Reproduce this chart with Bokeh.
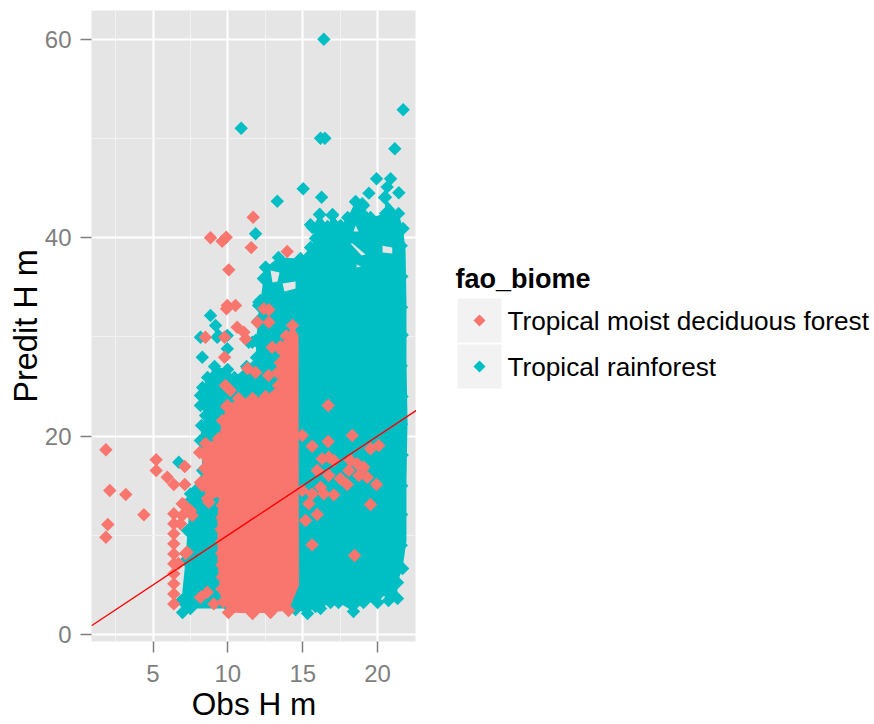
from bokeh.plotting import figure
from bokeh.layouts import row
from bokeh.models import FixedTicker, Range1d
from bokeh.core.properties import value
from bokeh.embed import file_html
from bokeh.resources import INLINE
import math

x_ticks = [5, 10, 15, 20]
x_minor = [2.5, 7.5, 12.5, 17.5, 22.5]
y_ticks = [0, 20, 40, 60]
y_minor = [10, 30, 50]
series_names = ["Tropical moist deciduous forest", "Tropical rainforest"]
line_x = [0.89, 22.6]
line_y = [0.89, 22.6]

# outline of the dense rainforest cloud
teal_edge_x = [12.18,12.38,12.52,13.38,14.85,15.52,15.85,15.65,16.12,16.66,16.99,17.53,18.0,18.53,19.06,18.99,19.53,20.53,20.46,21.4,21.7,
               21.87,21.93,21.93,22.0,21.93,21.93,21.67,21.33,21.33,20.73,20.2,20.0,19.06,18.39,17.39,16.86,16.19,15.85,15.32,14.52,
               10.18,7.5,6.97,6.9,7.17,7.3,7.5,7.84,8.31,8.17,8.24,8.51,8.17,8.17,8.31,8.64,9.11,9.98,10.44,11.25,11.91,11.85,12.05,12.05]
teal_edge_y = [33.67,35.89,37.0,38.0,37.9,39.01,39.92,41.03,42.34,41.13,42.34,41.23,42.04,43.65,43.24,42.44,42.04,42.44,44.05,42.44,40.93,
               38.71,33.67,27.62,21.57,15.52,9.48,6.65,5.24,3.63,3.43,4.23,3.23,3.23,2.32,3.23,3.23,2.62,2.82,2.12,2.52,
               2.62,2.62,2.22,3.43,7.46,10.48,13.51,14.52,16.53,19.56,21.07,22.08,23.08,24.09,24.9,25.91,27.02,26.71,25.91,27.02,27.92,29.64,31.65,33.17]
# gaps inside the rainforest cloud
hole1_x = [12.85, 13.45, 13.32, 12.98]
hole1_y = [36.69, 36.49, 35.58, 35.48]
hole2_x = [13.65, 14.52, 14.52, 13.78]
hole2_y = [35.38, 35.58, 34.88, 34.58]
hole3_x = [18.19, 18.33, 19.2, 18.93]
hole3_y = [39.42, 39.42, 38.31, 38.21]
hole4_x = [20.33, 20.98, 20.98, 20.33]
hole4_y = [39.2, 39.0, 38.41, 38.51]
hole5_x = [18.53, 18.73, 18.4]
hole5_y = [41.23, 40.63, 40.63]
hole6_x = [18.6, 18.9, 18.6]
hole6_y = [37.3, 37.1, 37.0]
# points along the right rim of the cloud
teal_rim_x = [21.58, 21.62, 21.6, 21.64, 21.58, 21.63, 21.6, 21.64, 21.61, 21.6, 21.58]
teal_rim_y = [39.2, 36.1, 33.0, 30.2, 27.1, 24.0, 21.2, 18.1, 15.0, 12.1, 9.0]
# single rainforest points outside the cloud
teal_x = [16.41,21.71,10.89,16.19,16.48,21.15,19.93,20.87,15.03,16.26,19.42,21.42,13.3,18.56,16.97,16.14,15.52,11.85,20.64,20.53,18.97,
          12.52,12.4,8.84,9.18,8.17,9.29,9.96,9.96,8.29,11.4,12.07,6.72,7.5,9.37,11.63]
teal_y = [60,52.9,51.04,50.03,50.03,48.96,45.94,45.94,44.93,44.08,44.49,44.53,43.68,43.58,42.24,42.34,41.3,40.39,45.1,44.08,43.42,
          37.03,35.86,32.16,31.15,29.97,29.97,30.14,28.8,27.95,29.47,33.5,17.37,14.18,30.14,29.47]

# outline of the dense moist deciduous cloud
pink_edge_x = [14.32,14.72,14.75,14.05,12.85,11.65,10.04,9.5,9.3,9.3,9.4,8.64,8.17,8.44,8.11,8.51,9.38,9.64,9.91,10.71,11.65,12.52,13.38,13.52]
pink_edge_y = [31.15,30.14,4.94,2.42,2.22,2.12,2.22,3.93,7.46,11.49,13.81,13.71,15.32,16.73,18.35,19.25,19.76,21.57,22.98,23.79,23.79,23.99,25.1,29.03]
pink_rim_x = [14.05,12.85,11.65,10.04,9.7,9.6,9.62,9.6,9.58,9.6,9.55,9.6,9.62,8.64,8.17,8.44,8.11,8.51,9.38,9.64,9.91,10.71,11.65,12.52,13.38,13.52,14.32]
pink_rim_y = [2.42,2.22,2.12,2.22,3.3,4.6,5.8,7,8.2,9.4,10.6,11.8,13,13.71,15.32,16.73,18.35,19.25,19.76,21.57,22.98,23.79,23.79,23.99,25.1,29.03,31.15]
pink_x = [11.69,8.84,9.62,9.89,11.56,13.96,10.06,9.91,9.96,10.51,12.4,12.74,10.62,11.07,11.18,11.96,12.74,12.96,8.5,9.78,9.78,
          1.85,5.21,5.21,2.11,3.18,4.39,1.98,1.85,5.95,6.39,7.12,7.12,7.06,
          6.39,6.39,6.39,6.39,6.39,6.39,6.39,6.39,6.39,6.39,6.95,7.62,6.84,7.28,8.29,8.73,8.95,8.17,8.62,9.06,
          16.7,14.97,15.63,16.7,18.31,19.53,20.08,16.3,16.74,17.08,15.97,18.19,18.64,19.08,18.75,19.31,17.97,19.93,17.08,16.41,19.53,
          15.63,15.41,15.97,15.19,15.63,18.46,14.97,16.74,17.52,18.08,16.19,
          11.31,11.85,12.72,13.32,9.84,10.17,9.98,7.5,6.95,7.17,6.7,13.9,13.6,13.5]
pink_y = [42.07,40,39.65,40.05,39,38.6,36.76,32.83,33.16,33.16,32.83,32.73,30.98,30.47,29.8,31.48,31.48,28.96,29.97,29.97,27.95,
          18.62,17.61,16.53,14.52,14.11,12.07,11.09,9.81,15.86,15.12,15.12,16.94,13.1,
          12.17,11.16,10.15,9.14,8.13,7.13,6.12,5.11,4.1,3.09,12,12,11.16,8.3,15.02,13.34,14.52,3.76,4.26,3.09,
          23.09,20.06,18.98,19.46,20.06,18.72,19.05,17.71,17.87,17.54,16.53,17.54,17.21,16.87,16.03,15.86,15.12,15.12,14.08,14.18,13.1,
          14.18,13.18,12.1,11.49,9.04,7.96,14.52,16.03,15.7,16.53,14.85,
          26.81,26.41,26.11,26.41,25.1,24.6,23.08,12.5,13.18,8.17,7.16,30.1,28.6,27.4]

PINK = "#F8766D"
TEAL = "#00BFC4"
FONT = "Liberation Sans"
DIAMOND = dict(marker="square", size=9.5, angle=math.pi / 4, line_color=None)

p = figure(width=416, height=724, output_backend="svg", toolbar_location=None,
           x_range=Range1d(0.89, 22.6), y_range=Range1d(-0.7, 62.9),
           min_border_left=91, min_border_right=0, min_border_top=10, min_border_bottom=83,
           background_fill_color="#E5E5E5", outline_line_color=None,
           x_axis_label="Obs H m", y_axis_label="Predit H m")

p.xaxis.ticker = FixedTicker(ticks=x_ticks, minor_ticks=x_minor)
p.yaxis.ticker = FixedTicker(ticks=y_ticks, minor_ticks=y_minor)
for ax in (p.xaxis[0], p.yaxis[0]):
    ax.axis_line_color = None
    ax.major_tick_line_color = "#7F7F7F"
    ax.major_tick_line_width = 1.5
    ax.major_tick_out = 11
    ax.major_tick_in = 0
    ax.minor_tick_line_color = None
    ax.major_label_text_color = "#7F7F7F"
    ax.major_label_text_font = FONT
    ax.major_label_text_font_size = "24px"
    ax.axis_label_text_font = FONT
    ax.axis_label_text_font_style = "normal"
    ax.axis_label_text_color = "#000000"
p.xaxis.major_label_standoff = 12
p.yaxis.major_label_standoff = 9
p.yaxis.axis_label_standoff = -2
p.xaxis.axis_label_standoff = 1
p.xaxis.axis_label_text_font_size = "31.5px"
p.yaxis.axis_label_text_font_size = "32.5px"
p.grid.grid_line_color = "#FFFFFF"
p.grid.grid_line_width = 2
p.grid.minor_grid_line_color = "#F2F2F2"
p.grid.minor_grid_line_width = 1

p.multi_polygons(
    xs=[[[teal_edge_x, hole1_x, hole2_x, hole3_x, hole4_x, hole5_x, hole6_x]]],
    ys=[[[teal_edge_y, hole1_y, hole2_y, hole3_y, hole4_y, hole5_y, hole6_y]]],
    fill_color=TEAL, line_color=None)
p.scatter(teal_edge_x[:21], teal_edge_y[:21], color=TEAL, **DIAMOND)
p.scatter(teal_edge_x[27:], teal_edge_y[27:], color=TEAL, **DIAMOND)
p.scatter(teal_rim_x, teal_rim_y, color=TEAL, **DIAMOND)
p.scatter(teal_x, teal_y, color=TEAL, **DIAMOND)
p.patch(pink_edge_x, pink_edge_y, fill_color=PINK, line_color=None)
p.scatter(pink_rim_x, pink_rim_y, color=PINK, **DIAMOND)
p.scatter(pink_x, pink_y, color=PINK, **DIAMOND)
p.line(line_x, line_y, line_color="#FF0000", line_width=1.4)

# legend panel: its frame is aligned with the plot's frame by the row layout
leg = figure(width=458, height=724, output_backend="svg", toolbar_location=None,
             x_range=Range1d(416, 874), y_range=Range1d(641, 10),
             x_axis_type=None, y_axis_type=None,
             min_border_left=0, min_border_right=0, min_border_top=10, min_border_bottom=83,
             outline_line_color=None, background_fill_color="#FFFFFF")
leg.grid.visible = False
key_y = [320, 366]
leg.rect([479, 479], key_y, width=44, height=44, fill_color="#F2F2F2", line_color=None)
leg.scatter([479], key_y[:1], color=PINK, marker="square", size=8.5, angle=math.pi / 4, line_color=None)
leg.scatter([479], key_y[1:], color=TEAL, marker="square", size=8.5, angle=math.pi / 4, line_color=None)
leg.text([455], [278], text=["fao_biome"], text_font=value(FONT), text_font_style="bold",
         text_font_size="27px", text_baseline="middle", text_color="#000000")
leg.text([507, 507], key_y, text=series_names, text_font=value(FONT),
         text_font_size="26.2px", text_baseline="middle", text_color="#000000")

page = row(p, leg, spacing=0)
open("out.html", "w").write(file_html(page, INLINE))
